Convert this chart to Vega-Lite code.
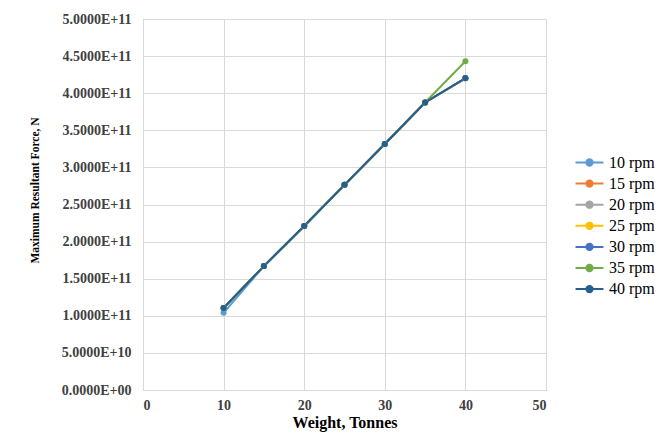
{
  "$schema": "https://vega.github.io/schema/vega-lite/v6.json",
  "autosize": "none",
  "width": 403,
  "height": 371,
  "padding": {"left": 143, "top": 19, "right": 126, "bottom": 55},
  "background": "white",
  "config": {
    "font": "Liberation Serif",
    "view": {"stroke": "#d9d9d9", "strokeWidth": 1},
    "legend": {"labelFont": "Liberation Serif", "labelFontSize": 16}
  },
  "data": {
    "values": [
      {"rpm": "10 rpm", "w": 10, "f": 1.04e11},
      {"rpm": "10 rpm", "w": 15, "f": 1.67e11},
      {"rpm": "10 rpm", "w": 20, "f": 2.21e11},
      {"rpm": "10 rpm", "w": 25, "f": 2.765e11},
      {"rpm": "10 rpm", "w": 30, "f": 3.315e11},
      {"rpm": "10 rpm", "w": 35, "f": 3.875e11},
      {"rpm": "10 rpm", "w": 40, "f": 4.2e11},
      {"rpm": "15  rpm", "w": 10, "f": 1.105e11},
      {"rpm": "15  rpm", "w": 15, "f": 1.67e11},
      {"rpm": "15  rpm", "w": 20, "f": 2.21e11},
      {"rpm": "15  rpm", "w": 25, "f": 2.765e11},
      {"rpm": "15  rpm", "w": 30, "f": 3.315e11},
      {"rpm": "15  rpm", "w": 35, "f": 3.875e11},
      {"rpm": "15  rpm", "w": 40, "f": 4.2e11},
      {"rpm": "20  rpm", "w": 10, "f": 1.105e11},
      {"rpm": "20  rpm", "w": 15, "f": 1.67e11},
      {"rpm": "20  rpm", "w": 20, "f": 2.21e11},
      {"rpm": "20  rpm", "w": 25, "f": 2.765e11},
      {"rpm": "20  rpm", "w": 30, "f": 3.315e11},
      {"rpm": "20  rpm", "w": 35, "f": 3.875e11},
      {"rpm": "20  rpm", "w": 40, "f": 4.2e11},
      {"rpm": "25  rpm", "w": 10, "f": 1.105e11},
      {"rpm": "25  rpm", "w": 15, "f": 1.67e11},
      {"rpm": "25  rpm", "w": 20, "f": 2.21e11},
      {"rpm": "25  rpm", "w": 25, "f": 2.765e11},
      {"rpm": "25  rpm", "w": 30, "f": 3.315e11},
      {"rpm": "25  rpm", "w": 35, "f": 3.875e11},
      {"rpm": "25  rpm", "w": 40, "f": 4.2e11},
      {"rpm": "30  rpm", "w": 10, "f": 1.105e11},
      {"rpm": "30  rpm", "w": 15, "f": 1.67e11},
      {"rpm": "30  rpm", "w": 20, "f": 2.21e11},
      {"rpm": "30  rpm", "w": 25, "f": 2.765e11},
      {"rpm": "30  rpm", "w": 30, "f": 3.315e11},
      {"rpm": "30  rpm", "w": 35, "f": 3.875e11},
      {"rpm": "30  rpm", "w": 40, "f": 4.2e11},
      {"rpm": "35  rpm", "w": 10, "f": 1.105e11},
      {"rpm": "35  rpm", "w": 15, "f": 1.67e11},
      {"rpm": "35  rpm", "w": 20, "f": 2.21e11},
      {"rpm": "35  rpm", "w": 25, "f": 2.765e11},
      {"rpm": "35  rpm", "w": 30, "f": 3.315e11},
      {"rpm": "35  rpm", "w": 35, "f": 3.875e11},
      {"rpm": "35  rpm", "w": 40, "f": 4.43e11},
      {"rpm": "40  rpm", "w": 10, "f": 1.105e11},
      {"rpm": "40  rpm", "w": 15, "f": 1.67e11},
      {"rpm": "40  rpm", "w": 20, "f": 2.21e11},
      {"rpm": "40  rpm", "w": 25, "f": 2.765e11},
      {"rpm": "40  rpm", "w": 30, "f": 3.315e11},
      {"rpm": "40  rpm", "w": 35, "f": 3.875e11},
      {"rpm": "40  rpm", "w": 40, "f": 4.205e11}
    ]
  },
  "mark": {"type": "line", "strokeWidth": 2, "point": {"filled": true, "size": 36}},
  "encoding": {
    "x": {
      "field": "w", "type": "quantitative",
      "scale": {"domain": [0, 50], "nice": false},
      "axis": {
        "values": [0, 10, 20, 30, 40, 50],
        "title": "Weight, Tonnes",
        "titleFont": "Liberation Serif", "titleFontSize": 16, "titleFontWeight": "bold", "titleColor": "#000",
        "titlePadding": 2,
        "labelFont": "Liberation Serif", "labelFontSize": 14, "labelFontWeight": "bold", "labelColor": "#404040",
        "labelPadding": 8,
        "ticks": false, "domainColor": "#d9d9d9", "gridColor": "#d9d9d9"
      }
    },
    "y": {
      "field": "f", "type": "quantitative",
      "scale": {"domain": [0, 5e11], "nice": false},
      "axis": {
        "values": [0, 5e10, 1e11, 1.5e11, 2e11, 2.5e11, 3e11, 3.5e11, 4e11, 4.5e11, 5e11],
        "labelExpr": "datum.value == 0 ? '0.0000E+00' : replace(format(datum.value, '.4e'), 'e', 'E')",
        "title": "Maximum Resultant Force, N",
        "titleFont": "Liberation Serif", "titleFontSize": 11.5, "titleFontWeight": "bold", "titleColor": "#000",
        "titlePadding": 21,
        "titleY": 171,
        "labelFont": "Liberation Serif", "labelFontSize": 14, "labelFontWeight": "bold", "labelColor": "#404040",
        "labelPadding": 12,
        "ticks": false, "domainColor": "#d9d9d9", "gridColor": "#d9d9d9"
      }
    },
    "color": {
      "field": "rpm", "type": "nominal",
      "scale": {
        "domain": ["10 rpm", "15  rpm", "20  rpm", "25  rpm", "30  rpm", "35  rpm", "40  rpm"],
        "range": ["#5B9BD5", "#ED7D31", "#A5A5A5", "#FFC000", "#4472C4", "#70AD47", "#255E91"]
      },
      "legend": {
        "title": null,
        "orient": "none",
        "legendX": 435,
        "legendY": 132,
        "labelFont": "Liberation Serif",
        "labelFontSize": 16,
        "labelColor": "#000",
        "symbolType": "M-1.33,0H1.33M-0.3,0A0.3,0.3,0,1,1,0.3,0A0.3,0.3,0,1,1,-0.3,0Z",
        "symbolSize": 441,
        "symbolStrokeWidth": 2,
        "rowPadding": 1.1,
        "labelOffset": 8
      }
    },
    "order": {"field": "w", "type": "quantitative"}
  }
}
